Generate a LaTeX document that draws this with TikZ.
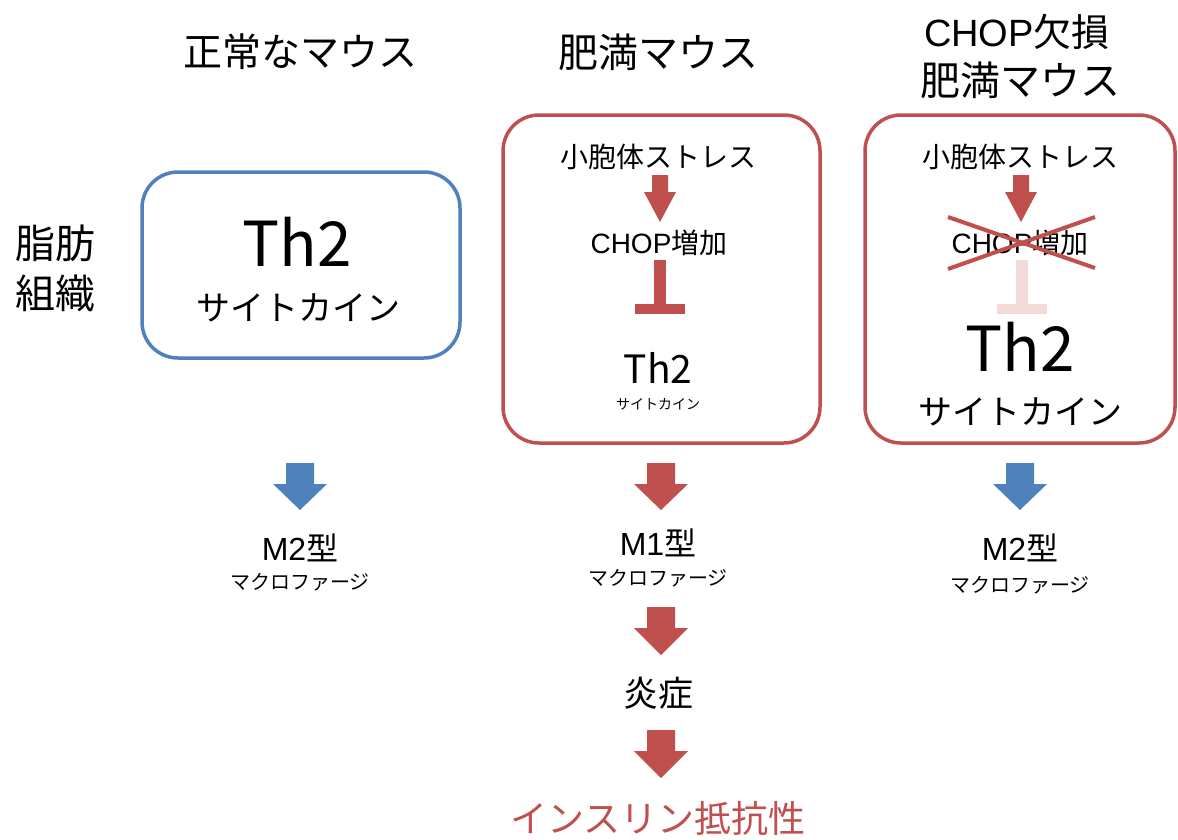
\documentclass[tikz,border=0pt]{standalone}
\usepackage{fontspec}
\setmainfont{Noto Sans CJK JP}
\newfontfamily\lat{Liberation Sans}
\definecolor{myblue}{RGB}{79,129,189}
\definecolor{myred}{RGB}{192,80,77}
\definecolor{mypink}{RGB}{242,218,217}
\newcommand\fs[1]{\fontsize{#1}{#1}\selectfont}
\newcommand\blkarrow[4]{% x, ytop, ytip, colour
  \fill[#4] (#1-14,#2) -- (#1+14,#2) -- (#1+14,#2+21) -- (#1+27,#2+21) -- (#1,#3) -- (#1-27,#2+21) -- (#1-14,#2+21) -- cycle;}
\newcommand\smarrow[4]{% x, ytop, ytip, colour
  \fill[#4] (#1-8,#2) -- (#1+8,#2) -- (#1+8,#2+17) -- (#1+16,#2+17) -- (#1,#3) -- (#1-16,#2+17) -- (#1-8,#2+17) -- cycle;}
\newcommand\inhib[3]{% x, ytop, colour
  \fill[#3] (#1-6,#2) rectangle (#1+6,#2+46);
  \fill[#3] (#1-25,#2+44) rectangle (#1+25,#2+54);}
\begin{document}
\begin{tikzpicture}[x=1pt,y=-1pt,
  txt/.style={inner sep=0pt,anchor=center,text=black},
  box/.style={draw,line width=3.5pt,rounded corners=36pt,fill=white}]
\useasboundingbox (0,0) rectangle (1178,839);
% titles
\node[txt] (t1) at (300,52) {\fs{39}正常なマウス};
\node[txt] (t2) at (658,52) {\fs{40}肥満マウス};
\node[txt] (t3a) at (1017,32) {\fs{38}{\lat CHOP}欠損};
\node[txt] (t3b) at (1020,80) {\fs{40}肥満マウス};
\node[txt] (l1) at (55,243) {\fs{40}脂肪};
\node[txt] (l2) at (55,293) {\fs{40}組織};
% boxes
\node[box,draw=myblue,minimum width=318pt,minimum height=186pt] (b1) at (301,265) {};
\node[box,draw=myred,minimum width=317pt,minimum height=328pt] (b2) at (661.5,279) {};
\node[box,draw=myred,minimum width=310pt,minimum height=328pt] (b3) at (1020,279) {};
% box1
\node[txt] (th1) at (297,242) {\fs{62}Th2};
\node[txt] (sc1) at (298,308) {\fs{34}サイトカイン};
% box2
\node[txt] (er2) at (658,157) {\fs{28}小胞体ストレス};
\node[txt] (ch2) at (659,243) {\fs{28}{\lat CHOP}増加};
\node[txt] (th2) at (658,368) {\fs{39}Th2};
\node[txt] (sc2) at (658,404) {\fs{14}サイトカイン};
\smarrow{660}{175}{222}{myred}
\inhib{660}{260}{myred}
% box3
\node[txt] (er3) at (1020,157) {\fs{28}小胞体ストレス};
\node[txt] (ch3) at (1020,243) {\fs{28}{\lat CHOP}増加};
\smarrow{1021}{175}{222}{myred}
\inhib{1022}{260}{mypink}
\draw[myred,line width=4pt] (948,217) -- (1095,268);
\draw[myred,line width=4pt] (948,269) -- (1095,217);
\node[txt] (th3) at (1020,347) {\fs{62}Th2};
\node[txt] (sc3) at (1020,412) {\fs{34}サイトカイン};
% column 1 below
\blkarrow{300}{463}{510}{myblue}
\node[txt] (m21) at (300,548) {\fs{32}{\lat M2}型};
\node[txt] (mp1) at (300,582) {\fs{20}マクロファージ};
% column 2 below
\blkarrow{661}{463}{510}{myred}
\node[txt] (m12) at (658,543) {\fs{32}{\lat M1}型};
\node[txt] (mp2) at (658,578) {\fs{20}マクロファージ};
\blkarrow{661}{607}{655}{myred}
\node[txt] (inf) at (658,693) {\fs{35}炎症};
\blkarrow{661}{730}{778}{myred}
\node[txt,text=myred] (ir) at (658,818) {\fs{37}インスリン抵抗性};
% column 3 below
\blkarrow{1020}{463}{510}{myblue}
\node[txt] (m23) at (1020,548) {\fs{32}{\lat M2}型};
\node[txt] (mp3) at (1020,585) {\fs{20}マクロファージ};
\end{tikzpicture}
\end{document}
